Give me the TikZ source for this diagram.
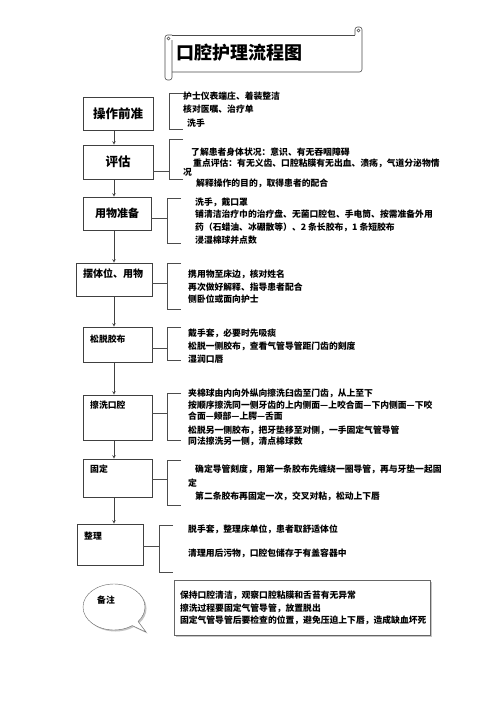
\documentclass[tikz,border=0pt]{standalone}
\usepackage{fontspec}
\newfontfamily\cjk{Noto Sans CJK SC}
\usetikzlibrary{shapes.callouts,shadows}
\tikzset{
  stepbox/.style={draw=black!75, line width=0.6pt, inner sep=0pt},
  boxlabel/.style={anchor=west, inner sep=0pt, font=\cjk\bfseries\fontsize{8.8}{10}\selectfont},
  desc/.style={anchor=west, inner sep=0pt, font=\cjk\bfseries\fontsize{8.8}{10}\selectfont},
  brace/.style={draw=black!70, line width=0.5pt},
  scroll/.style={draw=black!70, line width=0.6pt},
  softshadow/.style={drop shadow={shadow xshift=1.5pt, shadow yshift=-1.5pt, fill=black!45}},
}

\begin{document}
\begin{tikzpicture}[>=stealth, x=1pt, y=-1pt]
\useasboundingbox (0,0) rectangle (500,707);
\fill[white] (0,0) rectangle (500,707);

% === Title scroll ===
\draw[scroll] (172,35) -- (355,35);
\draw[scroll, rounded corners=2.5pt] (355,35) -- (355,27) -- (362,27) -- (362,72) -- (172,72);
\draw[scroll] (358.5,30.5) circle (1.5);
\draw[scroll, rounded corners=2.5pt] (172,35) -- (165,35) -- (165,80) -- (172,80) -- (172,40);
\draw[scroll] (168.5,38.5) circle (1.5);
\node[inner sep=0pt, anchor=west, font=\cjk\bfseries\fontsize{18}{20}\selectfont]
  (title) at (176,53) {口腔护理流程图};

% === Steps ===
\node[stepbox, minimum width=70pt, minimum height=33pt, font=\cjk\bfseries\fontsize{12.5}{14}\selectfont]
  (Step-1) at (118,113.5) {操作前准};
\node[stepbox, minimum width=70pt, minimum height=34pt, font=\cjk\bfseries\fontsize{12.5}{14}\selectfont]
  (Step-2) at (118,162) {评估};
\node[stepbox, minimum width=68pt, minimum height=33pt, font=\cjk\bfseries\fontsize{11}{13}\selectfont]
  (Step-3) at (117,213.5) {用物准备};
\node[stepbox, minimum width=76pt, minimum height=33pt] (Step-4) at (114,279.5) {};
\node[inner sep=0pt, font=\cjk\bfseries\fontsize{10}{12}\selectfont] (Label-4) at (113,274) {摆体位、用物};
\node[stepbox, minimum width=69pt, minimum height=35pt] (Step-5) at (117.5,344.5) {};
\node[boxlabel] (Label-5) at (90,339) {松脱胶布};
\node[stepbox, minimum width=69pt, minimum height=45pt] (Step-6) at (117.5,417.5) {};
\node[boxlabel] (Label-6) at (90,405) {擦洗口腔};
\node[stepbox, minimum width=69pt, minimum height=38pt] (Step-7) at (117.5,478) {};
\node[boxlabel] (Label-7) at (90,469) {固定};
\node[stepbox, minimum width=66pt, minimum height=41pt] (Step-8) at (110,544.5) {};
\node[boxlabel] (Label-8) at (84,536) {整理};

% === Arrows between steps ===
\coordinate (axis) at (114,0);
\foreach \i/\j in {1/2,2/3,3/4,4/5,5/6,6/7,7/8}{
  \draw[->, black!75, line width=0.6pt] (Step-\i.south -| axis) -- (Step-\j.north -| axis);
}

% === Brackets ===
\foreach \xb/\yt/\yb/\xe in {169/93/129/183, 169/139/179/183, 167/198/243/181,
    167/263/309/181, 167/327/360/181, 167/393/440/181, 167/460/505/181, 159/525/572/173}{
  \draw[brace] (\xe,\yt) -- (\xb,\yt) -- (\xb,\yb) -- (\xe,\yb);
}
\foreach \i/\xb/\yc in {2/169/171, 3/167/218, 4/167/283, 5/167/348, 6/167/413, 7/167/479, 8/159/546}{
  \coordinate (Hook-\i) at (\xb,\yc);
  \draw[brace] (Step-\i.east |- Hook-\i) -- (Hook-\i);
}

% === Details ===
\foreach \x/\y/\t [count=\k] in {183/96/护士仪表端庄、着装整洁, 183/109/核对医嘱、治疗单, 187/123/洗手}
  \node[desc] (Text-1-\k) at (\x,\y) {\t};
\foreach \x/\y/\t [count=\k] in {191/152/了解患者身体状况：意识、有无吞咽障碍,
    193/163/重点评估：有无义齿、口腔粘膜有无出血、溃疡，气道分泌物情,
    183/172/况, 196/183/解释操作的目的，取得患者的配合}
  \node[desc] (Text-2-\k) at (\x,\y) {\t};
\foreach \x/\y/\t [count=\k] in {195/202/洗手，戴口罩,
    195/214/铺清洁治疗巾的治疗盘、无菌口腔包、手电筒、按需准备外用,
    195/227/药（石蜡油、冰硼散等）、2 条长胶布，1 条短胶布, 195/240/浸湿棉球并点数}
  \node[desc] (Text-3-\k) at (\x,\y) {\t};
\foreach \x/\y/\t [count=\k] in {188/274/携用物至床边，核对姓名, 188/287/再次做好解释、指导患者配合,
    188/299/侧卧位或面向护士}
  \node[desc] (Text-4-\k) at (\x,\y) {\t};
\foreach \x/\y/\t [count=\k] in {188/333/戴手套，必要时先吸痰, 188/346/松脱一侧胶布，查看气管导管距门齿的刻度,
    188/359/湿润口唇}
  \node[desc] (Text-5-\k) at (\x,\y) {\t};
\foreach \x/\y/\t [count=\k] in {188/393/夹棉球由内向外纵向擦洗臼齿至门齿，从上至下,
    188/405/按顺序擦洗同一侧牙齿的上内侧面—上咬合面—下内侧面—下咬,
    188/416/合面—颊部—上腭—舌面, 188/430/松脱另一侧胶布，把牙垫移至对侧，一手固定气管导管,
    188/441/同法擦洗另一侧，清点棉球数}
  \node[desc] (Text-6-\k) at (\x,\y) {\t};
\foreach \x/\y/\t [count=\k] in {195/469/确定导管刻度，用第一条胶布先缠绕一圈导管，再与牙垫一起固,
    188/483/定, 195/496/第二条胶布再固定一次，交叉对粘，松动上下唇}
  \node[desc] (Text-7-\k) at (\x,\y) {\t};
\foreach \x/\y/\t [count=\k] in {188/529/脱手套，整理床单位，患者取舒适体位, 188/553/清理用后污物，口腔包储存于有盖容器中}
  \node[desc] (Text-8-\k) at (\x,\y) {\t};

% === Remarks ===
\node[ellipse callout, draw=black!60, fill=white, softshadow, minimum width=62pt, minimum height=46pt,
  callout absolute pointer={(146,632)}] (Memo-tag) at (114,607) {};
\node[boxlabel] (Memo-label) at (97,600) {备注};
\node[draw=black!60, fill=white, softshadow, minimum width=256pt, minimum height=55pt,
  text width=244pt, align=left, inner sep=0pt, font=\cjk\bfseries\fontsize{8.8}{12.5}\selectfont]
  (Memo) at (302,608) {保持口腔清洁，观察口腔粘膜和舌苔有无异常\\
    擦洗过程要固定气管导管，放置脱出\\
    固定气管导管后要检查的位置，避免压迫上下唇，造成缺血坏死};
\end{tikzpicture}
\end{document}
